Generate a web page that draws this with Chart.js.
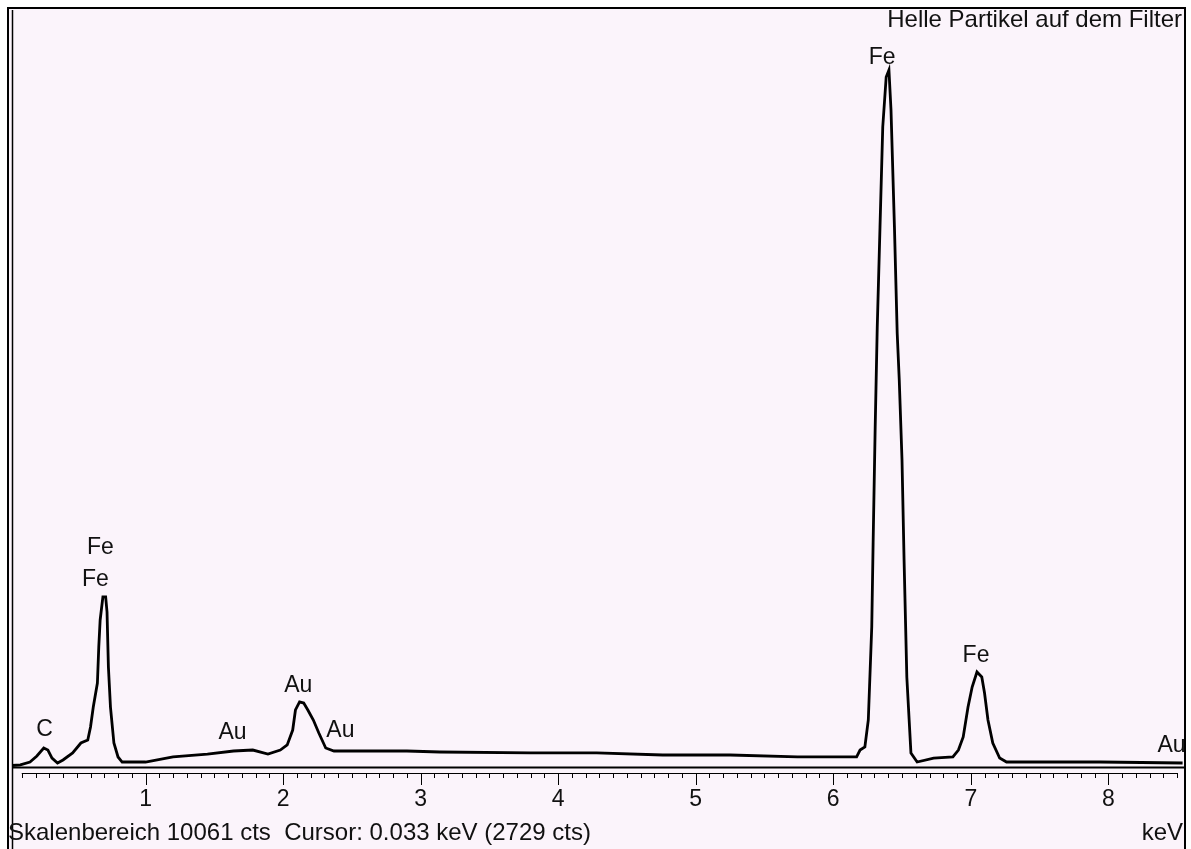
<!DOCTYPE html>
<html>
<head>
<meta charset="utf-8">
<script src="https://cdn.jsdelivr.net/npm/chart.js@4/dist/chart.umd.min.js"></script>
<style>
  html, body { margin: 0; padding: 0; background: #fff; }
  #wrap { position: relative; width: 1191px; height: 849px; }
</style>
</head>
<body>
<div id="wrap"><canvas id="chart" width="1191" height="849"></canvas></div>
<script>
// spectrum (keV, counts)
const energies = [0.03, 0.09, 0.16, 0.21, 0.26, 0.29, 0.32, 0.36, 0.40, 0.47, 0.53, 0.58, 0.60, 0.62,
  0.65, 0.66, 0.67, 0.69, 0.71, 0.72, 0.73, 0.745, 0.77, 0.80, 0.83, 1.00, 1.20, 1.45, 1.64, 1.78,
  1.89, 1.98, 2.03, 2.07, 2.09, 2.12, 2.15, 2.18, 2.22, 2.26, 2.31, 2.37, 2.61, 2.90, 3.14, 3.80,
  4.28, 4.76, 5.25, 5.74, 6.17, 6.195, 6.23, 6.255, 6.28, 6.29, 6.305, 6.32, 6.34, 6.36, 6.385,
  6.405, 6.42, 6.445, 6.465, 6.48, 6.50, 6.515, 6.535, 6.565, 6.61, 6.73, 6.87, 6.91, 6.945, 6.98,
  7.01, 7.045, 7.08, 7.10, 7.125, 7.16, 7.21, 7.26, 7.94, 8.54];
const counts = [20, 27, 66, 146, 252, 225, 119, 53, 93, 186, 318, 358, 530, 795,
  1113, 1591, 1949, 2254, 2254, 2055, 1326, 795, 318, 133, 66, 66, 133, 172, 212, 225,
  172, 225, 292, 490, 756, 862, 848, 756, 623, 451, 252, 212, 212, 212, 199, 186,
  186, 159, 159, 133, 133, 225, 265, 623, 1856, 2969, 4507, 5833, 7158, 8484, 9147,
  9240, 8709, 7158, 5753, 5130, 4070, 2744, 1193, 186, 66, 119, 133, 225, 398, 795,
  1060, 1259, 1193, 981, 623, 318, 119, 66, 66, 53];

// element markers
const peakNames = ['C', 'Fe', 'Fe', 'Au', 'Au', 'Au', 'Fe', 'Fe', 'Au'];
const peakKeV = [0.265, 0.672, 0.636, 1.632, 2.111, 2.417, 6.355, 7.038, 8.46];
const peakCts = [491, 2904, 2479, 451, 1074, 477, 9399, 1471, 278];

const tickValues = [1, 2, 3, 4, 5, 6, 7, 8];
const tickLabels = ['1', '2', '3', '4', '5', '6', '7', '8'];

const fullScale = 10061;
const maxKeV = 8.543;
const titleText = 'Helle Partikel auf dem Filter';
const statusText = 'Skalenbereich 10061 cts  Cursor: 0.033 keV (2729 cts)';
const unitText = 'keV';

const FONT = '"Liberation Sans", Arial, sans-serif';
const BG = '#fbf4fb';

const framePlugin = {
  id: 'frame',
  beforeDraw(chart) {
    const ctx = chart.ctx;
    ctx.save();
    ctx.fillStyle = '#fff';
    ctx.fillRect(0, 0, chart.width, chart.height);
    ctx.fillStyle = BG;
    ctx.fillRect(8, 8, 1177, 841);
    ctx.restore();
  },
  afterDraw(chart) {
    const ctx = chart.ctx;
    const xs = chart.scales.x;
    const area = chart.chartArea;
    ctx.save();
    ctx.strokeStyle = '#000';
    // outer box, double line on the left
    ctx.lineWidth = 2;
    ctx.beginPath();
    ctx.moveTo(8, 849); ctx.lineTo(8, 8); ctx.lineTo(1185, 8); ctx.lineTo(1185, 849);
    ctx.stroke();
    ctx.lineWidth = 1.5;
    ctx.beginPath();
    ctx.moveTo(12.5, 849); ctx.lineTo(12.5, 10);
    ctx.stroke();

    // axis line and tick ruler
    ctx.lineWidth = 2;
    ctx.beginPath();
    ctx.moveTo(12, area.bottom + 0.5); ctx.lineTo(1185, area.bottom + 0.5);
    ctx.stroke();
    const rulerY = area.bottom + 6;
    ctx.lineWidth = 1;
    ctx.beginPath();
    ctx.moveTo(xs.getPixelForValue(0.1), rulerY + 0.5);
    ctx.lineTo(xs.getPixelForValue(8.5), rulerY + 0.5);
    for (let i = 1; i <= 85; i++) {
      const px = Math.round(xs.getPixelForValue(i / 10)) + 0.5;
      const len = (i % 10 === 0) ? 12 : 5;
      ctx.moveTo(px, rulerY);
      ctx.lineTo(px, rulerY + len);
    }
    ctx.stroke();

    // tick labels
    ctx.fillStyle = '#111';
    ctx.font = '23px ' + FONT;
    ctx.textAlign = 'center';
    ctx.textBaseline = 'middle';
    tickValues.forEach((v, i) => {
      ctx.fillText(tickLabels[i], xs.getPixelForValue(v), 800);
    });

    // status line, unit and title
    ctx.font = '24px ' + FONT;
    ctx.textAlign = 'left';
    ctx.fillText(statusText, 8, 833);
    ctx.textAlign = 'right';
    ctx.fillText(unitText, 1183, 833);
    ctx.fillText(titleText, 1182, 20);

    // element markers, clipped to the plot
    ctx.font = '23px ' + FONT;
    ctx.beginPath();
    ctx.rect(13, 9, 1171, area.bottom - 9);
    ctx.clip();
    const ys = chart.scales.y;
    ctx.textAlign = 'center';
    peakNames.forEach((name, i) => {
      ctx.fillText(name, xs.getPixelForValue(peakKeV[i]), ys.getPixelForValue(peakCts[i]));
    });
    ctx.restore();
  }
};

new Chart(document.getElementById('chart'), {
  type: 'line',
  data: {
    datasets: [{
      data: energies.map((e, i) => ({ x: e, y: counts[i] })),
      borderColor: '#000',
      borderWidth: 2.8,
      pointRadius: 0,
      tension: 0,
      fill: false
    }]
  },
  options: {
    responsive: false,
    animation: false,
    layout: { padding: { left: 8, right: 8, top: 8, bottom: 82 } },
    plugins: { legend: { display: false }, tooltip: { enabled: false } },
    scales: {
      x: { type: 'linear', min: 0, max: maxKeV, display: false },
      y: { min: 0, max: fullScale, display: false }
    }
  },
  plugins: [framePlugin]
});
</script>
</body>
</html>
